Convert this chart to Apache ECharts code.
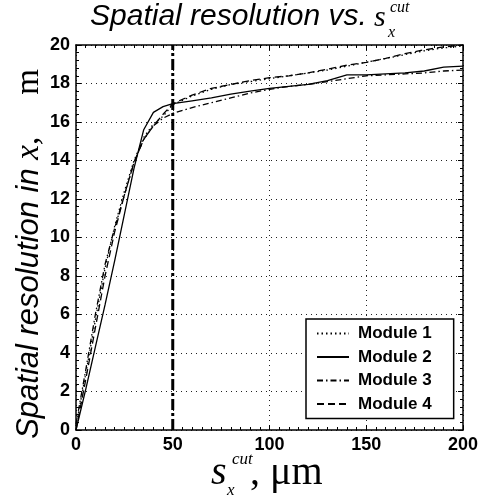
<!DOCTYPE html>
<html>
<head>
<meta charset="utf-8">
<script src="https://cdn.jsdelivr.net/npm/echarts@6/dist/echarts.min.js"></script>
<style>
html,body{margin:0;padding:0;background:#fff;}
#c{width:482px;height:502px;}
</style>
</head>
<body>
<div id="c"></div>
<script>
// ---- data ----
var xs = [0,5,10,15,20,25,30,35,40,45,50,60,70,80,90,100,110,120,130,140,150,160,170,180,190,200];
var module1 = [0.2,2.9,5.7,8.4,10.6,12.4,14.0,15.2,15.9,16.3,16.9,17.35,17.7,17.95,18.1,18.25,18.4,18.55,18.7,18.9,19.1,19.3,19.5,19.7,19.85,19.95];
var module2 = [0,2.1,4.3,6.5,8.8,11.2,13.6,15.6,16.5,16.8,16.95,17.1,17.25,17.45,17.6,17.75,17.85,17.95,18.15,18.45,18.45,18.5,18.55,18.65,18.85,18.9];
var module3 = [0.3,3.1,6.0,8.6,10.5,12.2,13.9,15.1,15.8,16.2,16.45,16.75,17.0,17.25,17.5,17.7,17.85,17.95,18.1,18.25,18.4,18.45,18.5,18.55,18.65,18.7];
var module4 = [0,2.6,5.3,8.0,10.3,12.2,13.9,15.1,15.8,16.4,16.95,17.4,17.75,17.95,18.15,18.3,18.4,18.55,18.75,18.95,19.1,19.3,19.55,19.75,19.9,20.0];
var seriesNames = ['Module 1','Module 2','Module 3','Module 4'];
var cutX = [50,50];
var cutY = [0,20];
var xTicks = [0,50,100,150,200];
var yTicks = [0,2,4,6,8,10,12,14,16,18,20];

function pairs(xv, yv){ return xv.map(function(x,i){ return [x, yv[i]]; }); }

var chart = echarts.init(document.getElementById('c'), null, {renderer:'canvas'});
var tickFont = {fontFamily:'"Liberation Sans", Arial, sans-serif', fontWeight:'bold', fontSize:18, color:'#000'};
var dotted = {show:true, lineStyle:{color:'#222', width:1, type:[1,4]}};

function axisCommon(extra){
  var base = {
    type:'value',
    axisLine:{show:true, onZero:false, lineStyle:{color:'#000', width:1.5}},
    axisTick:{show:true, inside:true, length:5, lineStyle:{color:'#000', width:1}},
    minorSplitLine:{show:false}
  };
  for (var k in extra) base[k] = extra[k];
  return base;
}

var lineW = 1.3;
var dashTypes = [[1.5,3], 'solid', [6,3,1.5,3], [7,4]];
var datas = [module1, module2, module3, module4];

var series = datas.map(function(d,i){
  return {
    name: seriesNames[i], type:'line', xAxisIndex:0, yAxisIndex:0,
    data: pairs(xs, d), symbol:'none', showSymbol:false, smooth:false,
    lineStyle:{color:'#000', width:lineW, type:dashTypes[i]},
    itemStyle:{color:'#000'}, z:3
  };
});
series.push({
  name:'cut', type:'line', xAxisIndex:0, yAxisIndex:0,
  data: pairs(cutX, cutY), symbol:'none', showSymbol:false,
  lineStyle:{color:'#000', width:3, type:[11,3,3,3]}, z:2
});

var minorX = {show:true, splitNumber:10, length:3, lineStyle:{color:'#000', width:1}};
var minorY = {show:true, splitNumber:5, length:3, lineStyle:{color:'#000', width:1}};

var option = {
  animation:false,
  backgroundColor:'#fff',
  grid:{left:76, right:19, top:45, bottom:72, containLabel:false},
  xAxis:[
    axisCommon({min:0, max:200, interval:50, position:'bottom', minorTick:minorX,
      axisLabel:Object.assign({margin:6, formatter:function(v){return xTicks.indexOf(v)>=0? String(v):'';}}, tickFont),
      splitLine:dotted}),
    axisCommon({min:0, max:200, interval:50, position:'top', minorTick:minorX,
      axisLabel:{show:false}, splitLine:{show:false}})
  ],
  yAxis:[
    axisCommon({min:0, max:20, interval:2, position:'left', minorTick:minorY,
      axisLabel:Object.assign({margin:6, formatter:function(v){return yTicks.indexOf(v)>=0? String(v):'';}}, tickFont),
      splitLine:dotted}),
    axisCommon({min:0, max:20, interval:2, position:'right', minorTick:minorY,
      axisLabel:{show:false}, splitLine:{show:false}})
  ],
  legend:{
    show:true,
    data: seriesNames,
    orient:'vertical', left:306, top:319,
    backgroundColor:'#fff', borderColor:'#000', borderWidth:1.5, borderRadius:0,
    padding:[6,22,6,10], itemGap:6.5, itemWidth:32, itemHeight:14,
    selectedMode:false, z:10,
    itemStyle:{color:'rgba(0,0,0,0)', borderWidth:0, opacity:0},
    textStyle:{fontFamily:'"Liberation Sans", Arial, sans-serif', fontWeight:'bold', fontSize:17, color:'#000', padding:[0,0,0,4]}
  },
  graphic:[
    {type:'text', x:90, y:17, style:{text:'Spatial resolution vs. ', font:'italic 30px "Liberation Sans", Arial, sans-serif', fill:'#000', textAlign:'left', textVerticalAlign:'middle'}},
    {type:'text', x:374, y:18, style:{text:'s', font:'italic 30px "Liberation Serif", "Times New Roman", serif', fill:'#000', textAlign:'left', textVerticalAlign:'middle'}},
    {type:'text', x:390, y:8, style:{text:'cut', font:'italic 16px "Liberation Serif", "Times New Roman", serif', fill:'#000', textAlign:'left', textVerticalAlign:'middle'}},
    {type:'text', x:388, y:33, style:{text:'x', font:'italic 16px "Liberation Serif", "Times New Roman", serif', fill:'#000', textAlign:'left', textVerticalAlign:'middle'}},

    {type:'text', x:211, y:473, style:{text:'s', font:'italic 40px "Liberation Serif", "Times New Roman", serif', fill:'#000', textAlign:'left', textVerticalAlign:'middle'}},
    {type:'text', x:232, y:460, style:{text:'cut', font:'italic 17px "Liberation Serif", "Times New Roman", serif', fill:'#000', textAlign:'left', textVerticalAlign:'middle'}},
    {type:'text', x:227, y:491, style:{text:'x', font:'italic 17px "Liberation Serif", "Times New Roman", serif', fill:'#000', textAlign:'left', textVerticalAlign:'middle'}},
    {type:'text', x:250, y:473, style:{text:', \u03bcm', font:'40px "Liberation Serif", "Times New Roman", serif', fill:'#000', textAlign:'left', textVerticalAlign:'middle'}},

    {type:'text', x:29, y:254, rotation:Math.PI/2, style:{
      text:'{a|Spatial resolution in }{b|x,}{c|m}',
      textAlign:'center', textVerticalAlign:'middle',
      rich:{
        a:{font:'italic 31px "Liberation Sans", Arial, sans-serif', fill:'#000'},
        b:{font:'italic 33px "Liberation Serif", "Times New Roman", serif', fill:'#000'},
        c:{font:'33px "Liberation Serif", "Times New Roman", serif', fill:'#000', padding:[0,0,0,42]}
      }
    }}
  ],
  series: series
};
chart.setOption(option);
</script>
</body>
</html>
